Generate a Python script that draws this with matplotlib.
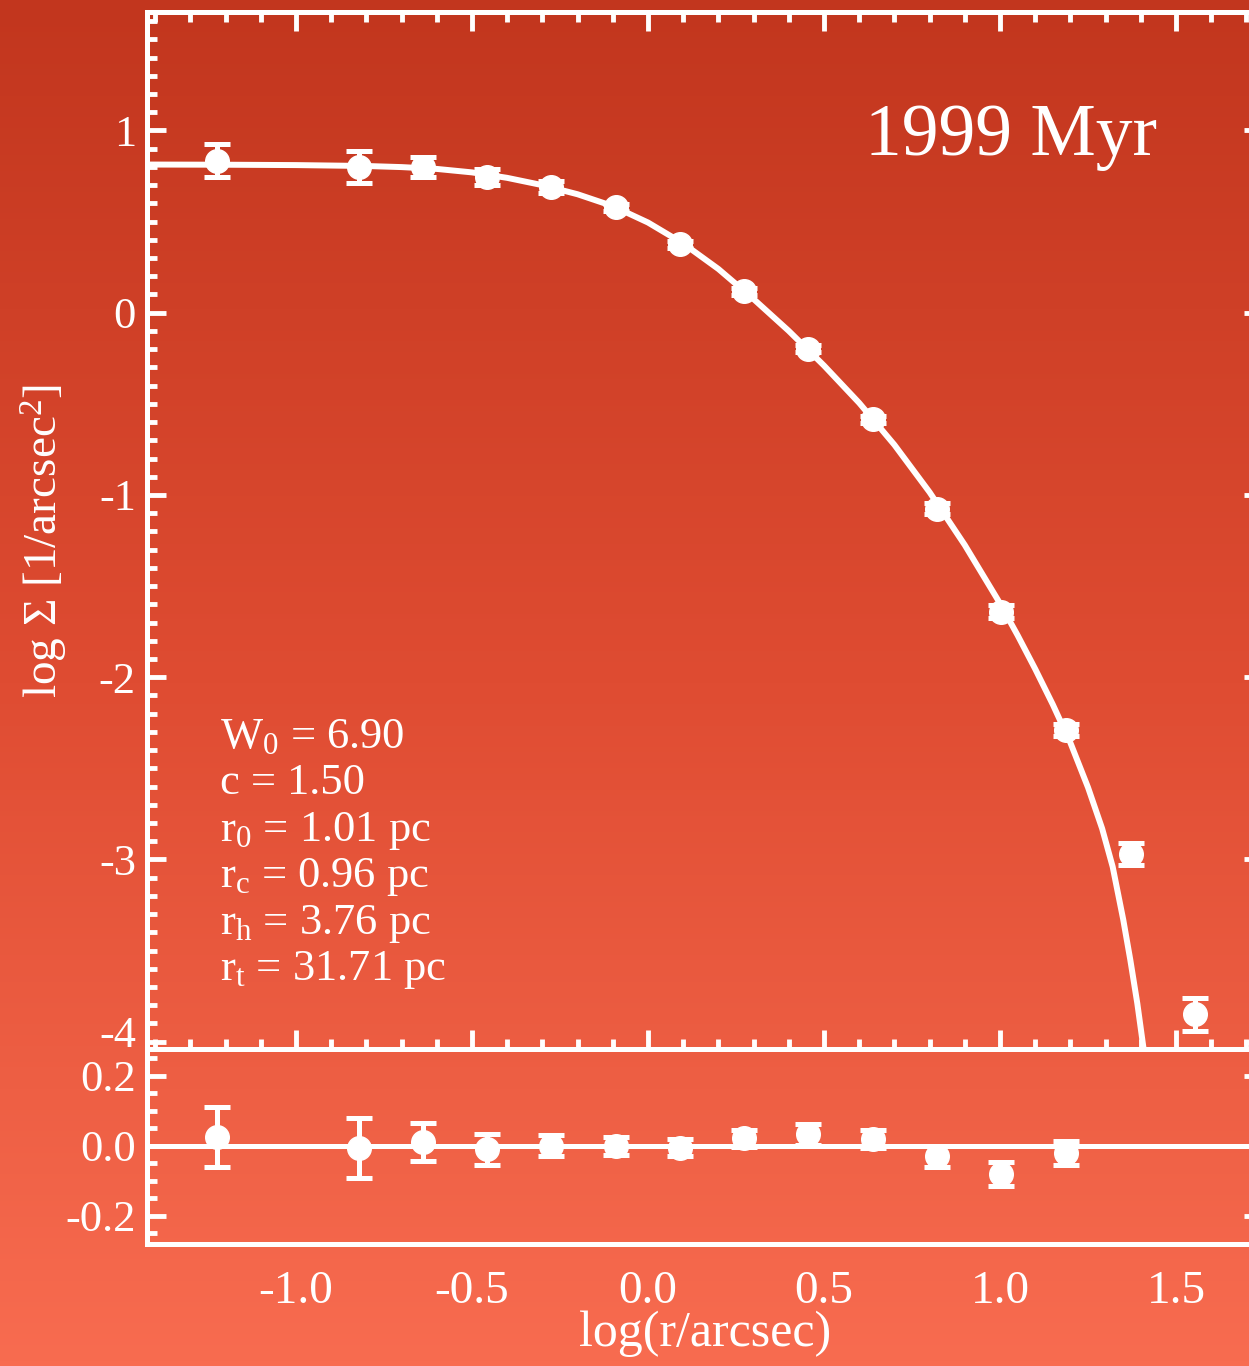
import numpy as np
import matplotlib
matplotlib.use('Agg')
import matplotlib.pyplot as plt
from matplotlib.colors import LinearSegmentedColormap
from matplotlib.ticker import MultipleLocator
from matplotlib.transforms import ScaledTranslation

# Perfil de densidade superficial (dados observados)
log_r = [-1.224, -0.821, -0.639, -0.457, -0.276, -0.091, 0.091, 0.273,
         0.455, 0.639, 0.821, 1.003, 1.188, 1.372, 1.554]
log_sigma = [0.835, 0.80, 0.80, 0.745, 0.69, 0.578, 0.375, 0.118,
             -0.198, -0.585, -1.075, -1.64, -2.29, -2.97, -3.85]
erro_sigma = [0.09, 0.09, 0.055, 0.045, 0.035, 0.02, 0.02, 0.02,
              0.02, 0.02, 0.03, 0.035, 0.035, 0.06, 0.09]

# Curva do modelo de King ajustado
modelo_r = [-1.423, -1.2, -1.0, -0.8, -0.7, -0.6, -0.5, -0.4, -0.3, -0.2,
            -0.1, 0.0, 0.1, 0.2, 0.3, 0.4, 0.5, 0.6, 0.7, 0.8, 0.9, 1.0,
            1.05, 1.1, 1.15, 1.2, 1.25, 1.29, 1.32, 1.35, 1.37, 1.39,
            1.41, 1.42]
modelo_sigma = [0.813, 0.812, 0.810, 0.805, 0.799, 0.789, 0.770, 0.740,
                0.700, 0.650, 0.585, 0.495, 0.380, 0.240, 0.075, -0.10,
                -0.29, -0.495, -0.725, -0.985, -1.275, -1.595,
                -1.77, -1.955, -2.15, -2.36, -2.605, -2.83, -3.04, -3.33,
                -3.55, -3.79, -4.07, -4.25]

# Resíduos (dados - modelo)
resid_r = log_r[:13]
resid = [0.026, -0.006, 0.011, -0.01, 0.0, 0.0, -0.005, 0.022, 0.034,
         0.02, -0.03, -0.08, -0.02]
erro_resid = [0.085, 0.085, 0.055, 0.045, 0.03, 0.025, 0.025, 0.025,
              0.03, 0.025, 0.03, 0.035, 0.035]

idade = '1999 Myr'
parametros = ['W$_0$ = 6.90', 'c = 1.50', 'r$_0$ = 1.01 pc',
              'r$_c$ = 0.96 pc', 'r$_h$ = 3.76 pc', 'r$_t$ = 31.71 pc']

plt.rcParams['font.family'] = ['Liberation Serif', 'DejaVu Serif']
plt.rcParams['mathtext.fontset'] = 'custom'
plt.rcParams['mathtext.rm'] = 'Liberation Serif'
plt.rcParams['mathtext.it'] = 'Liberation Serif'
plt.rcParams['mathtext.default'] = 'rm'
plt.rcParams['axes.unicode_minus'] = False

W, H = 1249, 1366
fig = plt.figure(figsize=(W / 100, H / 100), dpi=100)

# fundo em degradê vermelho-alaranjado
fundo = fig.add_axes([0, 0, 1, 1])
cmap = LinearSegmentedColormap.from_list('fundo', ['#C2361E', '#DF4C32', '#F86C50'])
grad = np.linspace(0, 1, 256).reshape(-1, 1)
fundo.imshow(grad, aspect='auto', cmap=cmap, extent=[0, 1, 0, 1], origin='upper')
fundo.axis('off')

esq, dir_ = 147 / W, 1263 / W
ax1 = fig.add_axes([esq, 1 - 1049 / H, dir_ - esq, (1049 - 12) / H])
ax2 = fig.add_axes([esq, 1 - 1244 / H, dir_ - esq, (1244 - 1049) / H])

branco = 'white'
lw_eixo = 3.6

for ax in (ax1, ax2):
    ax.set_facecolor('none')
    for s in ax.spines.values():
        s.set_color(branco)
        s.set_linewidth(lw_eixo)
    ax.set_xlim(-1.423, 1.747)
    ax.xaxis.set_major_locator(MultipleLocator(0.5))
    ax.xaxis.set_minor_locator(MultipleLocator(0.1))
    ax.tick_params(which='both', direction='in', colors=branco, width=3.5,
                   left=True, right=True, labelsize=32, pad=8)
    ax.tick_params(which='major', length=14)
    ax.tick_params(which='minor', length=7)

# painel superior: perfil
ax1.plot(modelo_r, modelo_sigma, color=branco, lw=4.3, zorder=3,
         solid_joinstyle='round')
ax1.errorbar(log_r, log_sigma, yerr=erro_sigma, fmt='o', color=branco,
             ms=17, elinewidth=3.6, capsize=9.5, capthick=3.6, zorder=4)
ax1.set_ylim(-4.04, 1.65)
ax1.set_yticks([-4, -3, -2, -1, 0, 1])
ax1.yaxis.set_minor_locator(MultipleLocator(0.1))
ax1.tick_params(axis='x', which='both', top=True, bottom=True, labelbottom=False)
ax1.set_ylabel('log Σ [1/arcsec$^2$]', color=branco, fontsize=34)
ax1.yaxis.set_label_coords(-0.069, 0.49)

ax1.text(0.643, 0.862, idade, transform=ax1.transAxes, color=branco,
         fontsize=53, va='baseline', ha='left')
for i, txt in enumerate(parametros):
    y_px = 748 + i * 46.4
    ax1.text(0.0654, (1049 - y_px) / 1037, txt, transform=ax1.transAxes,
             color=branco, fontsize=32, va='baseline', ha='left')

# painel inferior: resíduos
ax2.axhline(0, color=branco, lw=3.6, zorder=3)
ax2.errorbar(resid_r, resid, yerr=erro_resid, fmt='o', color=branco,
             ms=17, elinewidth=3.6, capsize=9.5, capthick=3.6, zorder=4)
ax2.set_ylim(-0.28, 0.277)
ax2.yaxis.set_major_locator(MultipleLocator(0.2))
ax2.yaxis.set_minor_locator(MultipleLocator(0.05))
ax2.yaxis.set_major_formatter(plt.FormatStrFormatter('%.1f'))
ax2.tick_params(axis='x', which='both', top=False, bottom=False, length=0,
                pad=19, labelsize=34)
ax2.set_xticks([-1.0, -0.5, 0.0, 0.5, 1.0, 1.5])
ax2.xaxis.set_major_formatter(plt.FormatStrFormatter('%.1f'))
ax2.set_xlabel('log(r/arcsec)', color=branco, fontsize=36)
ax2.xaxis.set_label_coords(0.5, -0.34)

# rótulo "-4" um pouco acima para não encostar no "0.2"
fig.canvas.draw()
rot = ax1.get_yticklabels()[0]
rot.set_transform(rot.get_transform() + ScaledTranslation(0, 7 / 72, fig.dpi_scale_trans))

fig.savefig('out.png', dpi=100)
plt.close(fig)
